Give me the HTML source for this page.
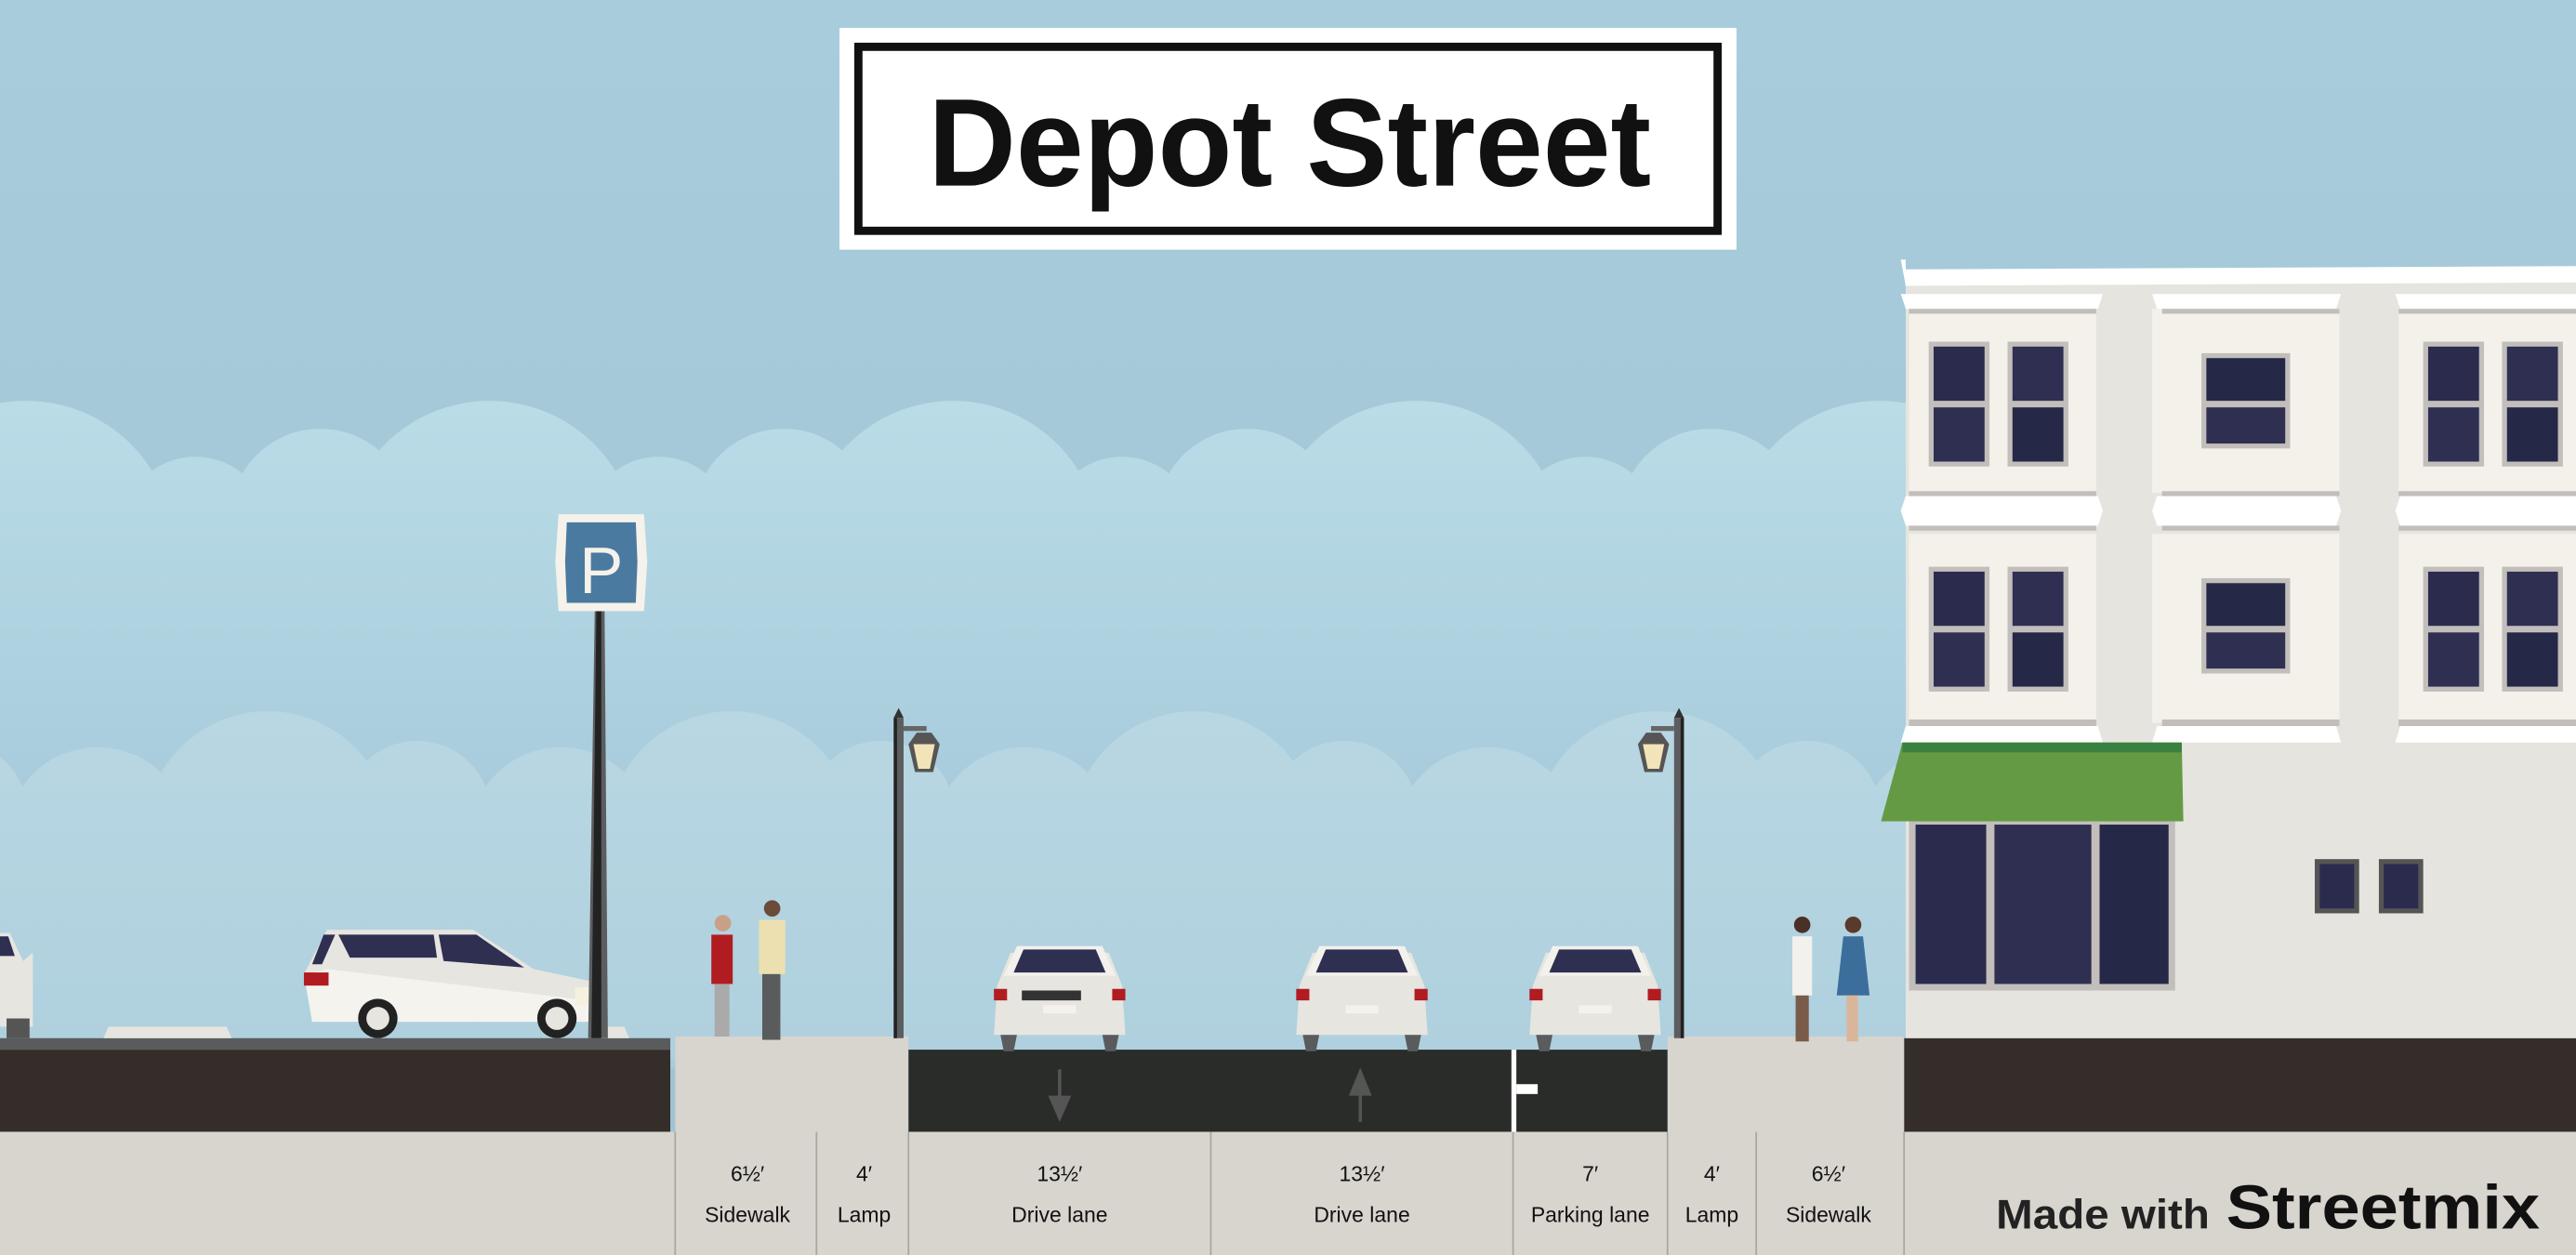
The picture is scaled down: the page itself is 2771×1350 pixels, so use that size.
<!DOCTYPE html>
<html><head><meta charset="utf-8"><style>html,body{margin:0;padding:0;background:#a8cbdb}svg{display:block}</style></head>
<body>
<svg width="2771" height="1350" viewBox="0 0 1568 764" preserveAspectRatio="none" xmlns="http://www.w3.org/2000/svg" font-family="Liberation Sans, sans-serif">
<defs>
<linearGradient id="sky" x1="0" y1="0" x2="0" y2="1"><stop offset="0" stop-color="#a8ccdc"/><stop offset="1" stop-color="#a0c3d2"/></linearGradient>
<linearGradient id="bc" gradientUnits="userSpaceOnUse" x1="0" y1="245" x2="0" y2="480"><stop offset="0" stop-color="#badce7"/><stop offset="1" stop-color="#a8ccdc"/></linearGradient>
<linearGradient id="fc" gradientUnits="userSpaceOnUse" x1="0" y1="434" x2="0" y2="640"><stop offset="0" stop-color="#b9d7e3"/><stop offset="1" stop-color="#afd0de"/></linearGradient>
<g id="back"><circle cx="0" cy="334" r="90"/><circle cx="103" cy="323" r="45"/><circle cx="179" cy="316" r="55"/></g>
<g id="front"><circle cx="0" cy="508" r="75"/><circle cx="-103" cy="510" r="55"/><circle cx="91" cy="496" r="45"/><circle cx="178" cy="510" r="55"/></g>
<g id="rearcar">
<path d="M10 8 L70 8 L78 28 L80 58 L0 58 L2 28 Z" fill="#e6e5e0"/>
<path d="M14 4 L66 4 L74 22 L6 22 Z" fill="#f2f1ec"/>
<path d="M18 6 L62 6 L68 20 L12 20 Z" fill="#2f2f52"/>
<rect x="0" y="30" width="8" height="7" fill="#b11c21"/><rect x="72" y="30" width="8" height="7" fill="#b11c21"/>
<rect x="30" y="40" width="20" height="5" fill="#f4f2ea"/>
<path d="M4 58 L14 58 L12 68 L6 68 Z M66 58 L76 58 L74 68 L68 68 Z" fill="#5a5b5c"/>
</g>
</defs>
<rect width="1568" height="764" fill="url(#sky)"/>
<g fill="url(#bc)">
<use href="#back" x="16"/><use href="#back" x="298"/><use href="#back" x="580"/><use href="#back" x="862"/><use href="#back" x="1144"/><use href="#back" x="1426"/><use href="#back" x="-266"/>
<rect x="0" y="320" width="1568" height="330"/>
</g>
<g fill="url(#fc)">
<use href="#front" x="163"/><use href="#front" x="445"/><use href="#front" x="727"/><use href="#front" x="1009"/><use href="#front" x="1291"/><use href="#front" x="-119"/>
<rect x="0" y="505" width="1568" height="140"/>
</g>

<!-- title sign -->
<rect x="511" y="17" width="546" height="135" fill="#fff"/>
<rect x="522.5" y="28.5" width="523" height="112" fill="none" stroke="#111" stroke-width="5"/>
<text x="785" y="113" text-anchor="middle" font-size="76" font-weight="bold" fill="#111" textLength="440" lengthAdjust="spacingAndGlyphs">Depot Street</text>

<!-- ground -->
<rect x="0" y="632" width="408" height="7" fill="#5a5b5c"/>
<rect x="0" y="639" width="408" height="50" fill="#352d29"/>
<rect x="1159" y="632" width="409" height="57" fill="#352d29"/>
<rect x="0" y="689" width="1568" height="75" fill="#d8d4ce"/>
<rect x="411" y="631" width="142" height="133" fill="#d8d4ce"/>
<rect x="1015" y="631" width="144" height="133" fill="#d8d4ce"/>
<rect x="553" y="639" width="462" height="50" fill="#2a2c2a"/>
<rect x="920" y="639" width="3" height="50" fill="#fff"/>
<rect x="923" y="660" width="13" height="6" fill="#fff"/>
<path d="M644 651 L646 651 L646 667 L652 667 L645 683 L638 667 L644 667 Z" fill="#555"/>
<path d="M827 683 L829 683 L829 667 L835 667 L828 650 L821 667 L827 667 Z" fill="#555"/>
<g stroke="#aaa6a0" stroke-width="1">
<line x1="411" y1="689" x2="411" y2="764"/><line x1="497" y1="689" x2="497" y2="764"/><line x1="553" y1="689" x2="553" y2="764"/><line x1="737" y1="689" x2="737" y2="764"/><line x1="921" y1="689" x2="921" y2="764"/><line x1="1015" y1="689" x2="1015" y2="764"/><line x1="1069" y1="689" x2="1069" y2="764"/><line x1="1159" y1="689" x2="1159" y2="764"/>
</g>
<g font-size="13" fill="#111" text-anchor="middle">
<text x="455" y="719">6½′</text><text x="526" y="719">4′</text><text x="645" y="719">13½′</text><text x="829" y="719">13½′</text><text x="968" y="719">7′</text><text x="1042" y="719">4′</text><text x="1113" y="719">6½′</text>
<text x="455" y="744">Sidewalk</text><text x="526" y="744">Lamp</text><text x="645" y="744">Drive lane</text><text x="829" y="744">Drive lane</text><text x="968" y="744">Parking lane</text><text x="1042" y="744">Lamp</text><text x="1113" y="744">Sidewalk</text>
</g>
<text x="1215" y="748" font-size="25" font-weight="bold" fill="#222" textLength="130" lengthAdjust="spacingAndGlyphs">Made with</text>
<text x="1355" y="748" font-size="38" font-weight="bold" fill="#111" textLength="191" lengthAdjust="spacingAndGlyphs">Streetmix</text>

<!-- curb stops -->
<path d="M66 625 L138 625 L141 632 L63 632 Z" fill="#e6e5e0"/>
<path d="M368 625 L380 625 L383 632 L365 632 Z" fill="#e6e5e0"/>
<!-- partial car left -->
<path d="M0 568 L6 568 L14 585 L20 580 L20 625 L0 625 Z" fill="#e6e5e0"/>
<path d="M0 570 L5 570 L9 582 L0 582 Z" fill="#2f2f52"/>
<rect x="4" y="620" width="14" height="12" fill="#555"/>
<!-- side car -->
<path d="M199 566 L288 566 L325 590 L368 599 L366 622 L190 622 L185 593 Z" fill="#e6e5e0"/>
<path d="M185 593 L200 590 L366 610 L364 622 L190 622 Z" fill="#f4f3ee"/>
<path d="M206 569 L264 569 L266 583 L213 583 Z" fill="#2f2f52"/>
<path d="M267 569 L290 569 L319 589 L270 585 Z" fill="#2f2f52"/>
<path d="M197 569 L204 569 L196 587 L190 587 Z" fill="#2f2f52"/>
<rect x="185" y="592" width="15" height="8" fill="#b11c21"/>
<rect x="350" y="601" width="18" height="11" fill="#f6f1df"/>
<circle cx="230" cy="620" r="12" fill="#222"/><circle cx="230" cy="620" r="7" fill="#e6e5e0"/>
<circle cx="339" cy="620" r="12" fill="#222"/><circle cx="339" cy="620" r="7" fill="#e6e5e0"/>
<!-- parking sign -->
<path d="M362 372 L368 372 L370 632 L358 632 Z" fill="#5c5d5f"/>
<path d="M363 372 L366 372 L366 632 L360 632 Z" fill="#222"/>
<path d="M340 313 L392 313 L394 342 L392 372 L340 372 L338 342 Z" fill="#f4f2ea"/>
<path d="M345 318 L387 318 L388 342 L387 367 L345 367 L344 342 Z" fill="#4a7aa0"/>
<text x="366" y="361" text-anchor="middle" font-size="40" fill="#f4f2ea">P</text>
<!-- people left -->
<circle cx="440" cy="562" r="5" fill="#c9a086"/><rect x="433" y="569" width="13" height="30" fill="#b11c21"/><rect x="435" y="599" width="9" height="32" fill="#aaa"/>
<circle cx="470" cy="553" r="5" fill="#6b4b3a"/><rect x="462" y="560" width="16" height="33" fill="#ede0b0"/><rect x="464" y="593" width="11" height="40" fill="#5a5b5c"/>
<!-- lamps -->
<rect x="544" y="437" width="6" height="195" fill="#5c5d5f"/><rect x="544" y="437" width="2" height="195" fill="#222"/>
<path d="M544 437 L547 431 L550 437 Z" fill="#333"/>
<rect x="550" y="442" width="14" height="3" fill="#666"/>
<path d="M553 453 L558 446 L567 446 L572 453 L568 470 L557 470 Z" fill="#555"/>
<path d="M556 453 L569 453 L566 468 L559 468 Z" fill="#f2e4b8"/>
<rect x="1019" y="437" width="6" height="195" fill="#5c5d5f"/><rect x="1023" y="437" width="2" height="195" fill="#222"/>
<path d="M1019 437 L1022 431 L1025 437 Z" fill="#333"/>
<rect x="1005" y="442" width="14" height="3" fill="#666"/>
<path d="M997 453 L1002 446 L1011 446 L1016 453 L1012 470 L1001 470 Z" fill="#555"/>
<path d="M1000 453 L1013 453 L1010 468 L1003 468 Z" fill="#f2e4b8"/>
<!-- rear cars -->
<use href="#rearcar" x="605" y="572"/>
<use href="#rearcar" x="789" y="572"/>
<use href="#rearcar" x="931" y="572"/>
<rect x="622" y="603" width="36" height="6" fill="#333"/>
<!-- people right -->
<circle cx="1097" cy="563" r="5" fill="#4a3026"/><rect x="1091" y="570" width="12" height="36" fill="#f2f1ec"/><rect x="1093" y="606" width="8" height="28" fill="#7a5a48"/>
<circle cx="1128" cy="563" r="5" fill="#5a3a2a"/><path d="M1122 570 L1134 570 L1138 606 L1118 606 Z" fill="#3b6e9a"/><rect x="1124" y="606" width="7" height="28" fill="#d9b69a"/>

<!-- building -->
<rect x="1160" y="172" width="408" height="460" fill="#e5e4de"/>
<path d="M1157 158 L1160 158 L1160 164 L1568 162 L1568 172 L1160 174 Z" fill="#fff"/>
<g fill="#f3f1ea">
<rect x="1162" y="188" width="114" height="112"/><rect x="1310" y="188" width="114" height="112"/><rect x="1460" y="188" width="108" height="112"/>
<rect x="1162" y="325" width="114" height="115"/><rect x="1310" y="325" width="114" height="115"/><rect x="1460" y="325" width="108" height="115"/>
</g>
<g fill="#fff">
<path d="M1157 179 L1280 179 L1277 188 L1160 188 Z"/><path d="M1310 179 L1425 179 L1422 188 L1313 188 Z"/><path d="M1458 179 L1568 179 L1568 188 L1461 188 Z"/>
<path d="M1160 302 L1277 302 L1280 311 L1277 320 L1160 320 L1157 311 Z"/><path d="M1313 302 L1422 302 L1425 311 L1422 320 L1313 320 L1310 311 Z"/><path d="M1461 302 L1568 302 L1568 320 L1461 320 L1458 311 Z"/>
<path d="M1160 442 L1277 442 L1280 452 L1157 452 Z"/><path d="M1313 442 L1422 442 L1425 452 L1310 452 Z"/><path d="M1461 442 L1568 442 L1568 452 L1458 452 Z"/>
</g>
<g fill="#c2bebb">
<rect x="1162" y="188" width="114" height="3"/><rect x="1316" y="188" width="108" height="3"/><rect x="1460" y="188" width="108" height="3"/>
<rect x="1162" y="299" width="114" height="3"/><rect x="1316" y="299" width="108" height="3"/><rect x="1460" y="299" width="108" height="3"/>
<rect x="1162" y="320" width="114" height="3"/><rect x="1316" y="320" width="108" height="3"/><rect x="1460" y="320" width="108" height="3"/>
<rect x="1162" y="438" width="114" height="4"/><rect x="1316" y="438" width="108" height="4"/><rect x="1460" y="438" width="108" height="4"/>
</g>
<g>
<g id="w2"><rect x="1174" y="208" width="37" height="76" fill="#c2bebb"/><rect x="1177" y="211" width="31" height="33" fill="#2b2b4e"/><rect x="1177" y="248" width="31" height="33" fill="#2f2f52"/>
<rect x="1222" y="208" width="37" height="76" fill="#c2bebb"/><rect x="1225" y="211" width="31" height="33" fill="#2f2f52"/><rect x="1225" y="248" width="31" height="33" fill="#262848"/></g>
<use href="#w2" x="301"/><use href="#w2" y="137"/><use href="#w2" x="301" y="137"/>
<g id="w1"><rect x="1340" y="215" width="54" height="58" fill="#c2bebb"/><rect x="1343" y="218" width="48" height="26" fill="#262848"/><rect x="1343" y="248" width="48" height="22" fill="#2f2f52"/></g>
<use href="#w1" y="137"/>
</g>
<!-- awning & shop -->
<rect x="1162" y="500" width="162" height="103" fill="#c2bebb"/>
<rect x="1166" y="502" width="43" height="97" fill="#2b2b4e"/><rect x="1214" y="502" width="59" height="97" fill="#2f2f52"/><rect x="1278" y="502" width="42" height="97" fill="#262848"/>
<path d="M1158 452 L1328 452 L1329 500 L1145 500 Z" fill="#659a44"/>
<rect x="1158" y="452" width="170" height="6" fill="#3a8040"/>
<rect x="1409" y="523" width="27" height="33" fill="#555"/><rect x="1412" y="526" width="21" height="27" fill="#2b2b4e"/>
<rect x="1448" y="523" width="27" height="33" fill="#555"/><rect x="1451" y="526" width="21" height="27" fill="#2b2b4e"/>
</svg>
</body></html>
